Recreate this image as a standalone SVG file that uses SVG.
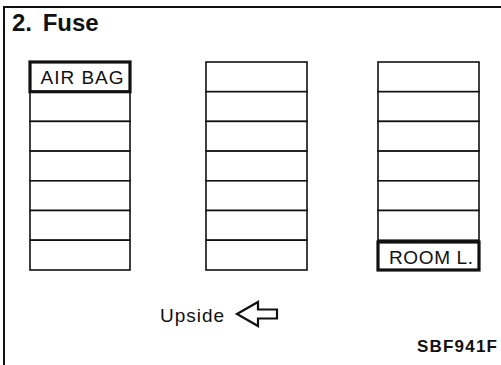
<svg xmlns="http://www.w3.org/2000/svg" width="501" height="365" viewBox="0 0 501 365">
<style>
.cell{fill:#fff;stroke:#111;stroke-width:1.6}
.lbl{fill:#fff;stroke:#111;stroke-width:3.2}
.t{font-family:"Liberation Sans",Arial,sans-serif;fill:#111}
</style>
<rect width="501" height="365" fill="#fff"/>
<path d="M4,365 V7 H501" fill="none" stroke="#111" stroke-width="2"/>
<text class="t" x="12" y="31" font-size="24" font-weight="bold" word-spacing="4">2. Fuse</text>
<g id="fuse-col-1">
<rect class="cell" x="30" y="62" width="100" height="29.7"/>
<rect class="cell" x="30" y="91.7" width="100" height="29.7"/>
<rect class="cell" x="30" y="121.4" width="100" height="29.7"/>
<rect class="cell" x="30" y="151.1" width="100" height="29.7"/>
<rect class="cell" x="30" y="180.8" width="100" height="29.7"/>
<rect class="cell" x="30" y="210.5" width="100" height="29.7"/>
<rect class="cell" x="30" y="240.2" width="100" height="29.8"/>
<g id="air-bag">
<rect class="lbl" x="30" y="62" width="100" height="29.7"/>
<text class="t" x="40.5" y="84" font-size="19" textLength="83" lengthAdjust="spacing">AIR BAG</text>
</g>
</g>
<g id="fuse-col-2">
<rect class="cell" x="206" y="62" width="101" height="29.7"/>
<rect class="cell" x="206" y="91.7" width="101" height="29.7"/>
<rect class="cell" x="206" y="121.4" width="101" height="29.7"/>
<rect class="cell" x="206" y="151.1" width="101" height="29.7"/>
<rect class="cell" x="206" y="180.8" width="101" height="29.7"/>
<rect class="cell" x="206" y="210.5" width="101" height="29.7"/>
<rect class="cell" x="206" y="240.2" width="101" height="29.8"/>
</g>
<g id="fuse-col-3">
<rect class="cell" x="378" y="62" width="101" height="29.7"/>
<rect class="cell" x="378" y="91.7" width="101" height="29.7"/>
<rect class="cell" x="378" y="121.4" width="101" height="29.7"/>
<rect class="cell" x="378" y="151.1" width="101" height="29.7"/>
<rect class="cell" x="378" y="180.8" width="101" height="29.7"/>
<rect class="cell" x="378" y="210.5" width="101" height="29.7"/>
<g id="room-l">
<rect class="lbl" x="378" y="242" width="101" height="28"/>
<text class="t" x="389" y="264" font-size="19" textLength="84" lengthAdjust="spacing">ROOM L.</text>
</g>
</g>
<g id="upside">
<text class="t" x="160" y="322" font-size="19" textLength="64" lengthAdjust="spacing">Upside</text>
<path d="M237,314 L258,302 L258,309.5 L277,309.5 L277,318.5 L258,318.5 L258,326 Z" fill="#fff" stroke="#111" stroke-width="2.2" stroke-linejoin="miter"/>
</g>
<text class="t" x="417" y="352" font-size="17" font-weight="bold" textLength="80" lengthAdjust="spacing">SBF941F</text>
</svg>
